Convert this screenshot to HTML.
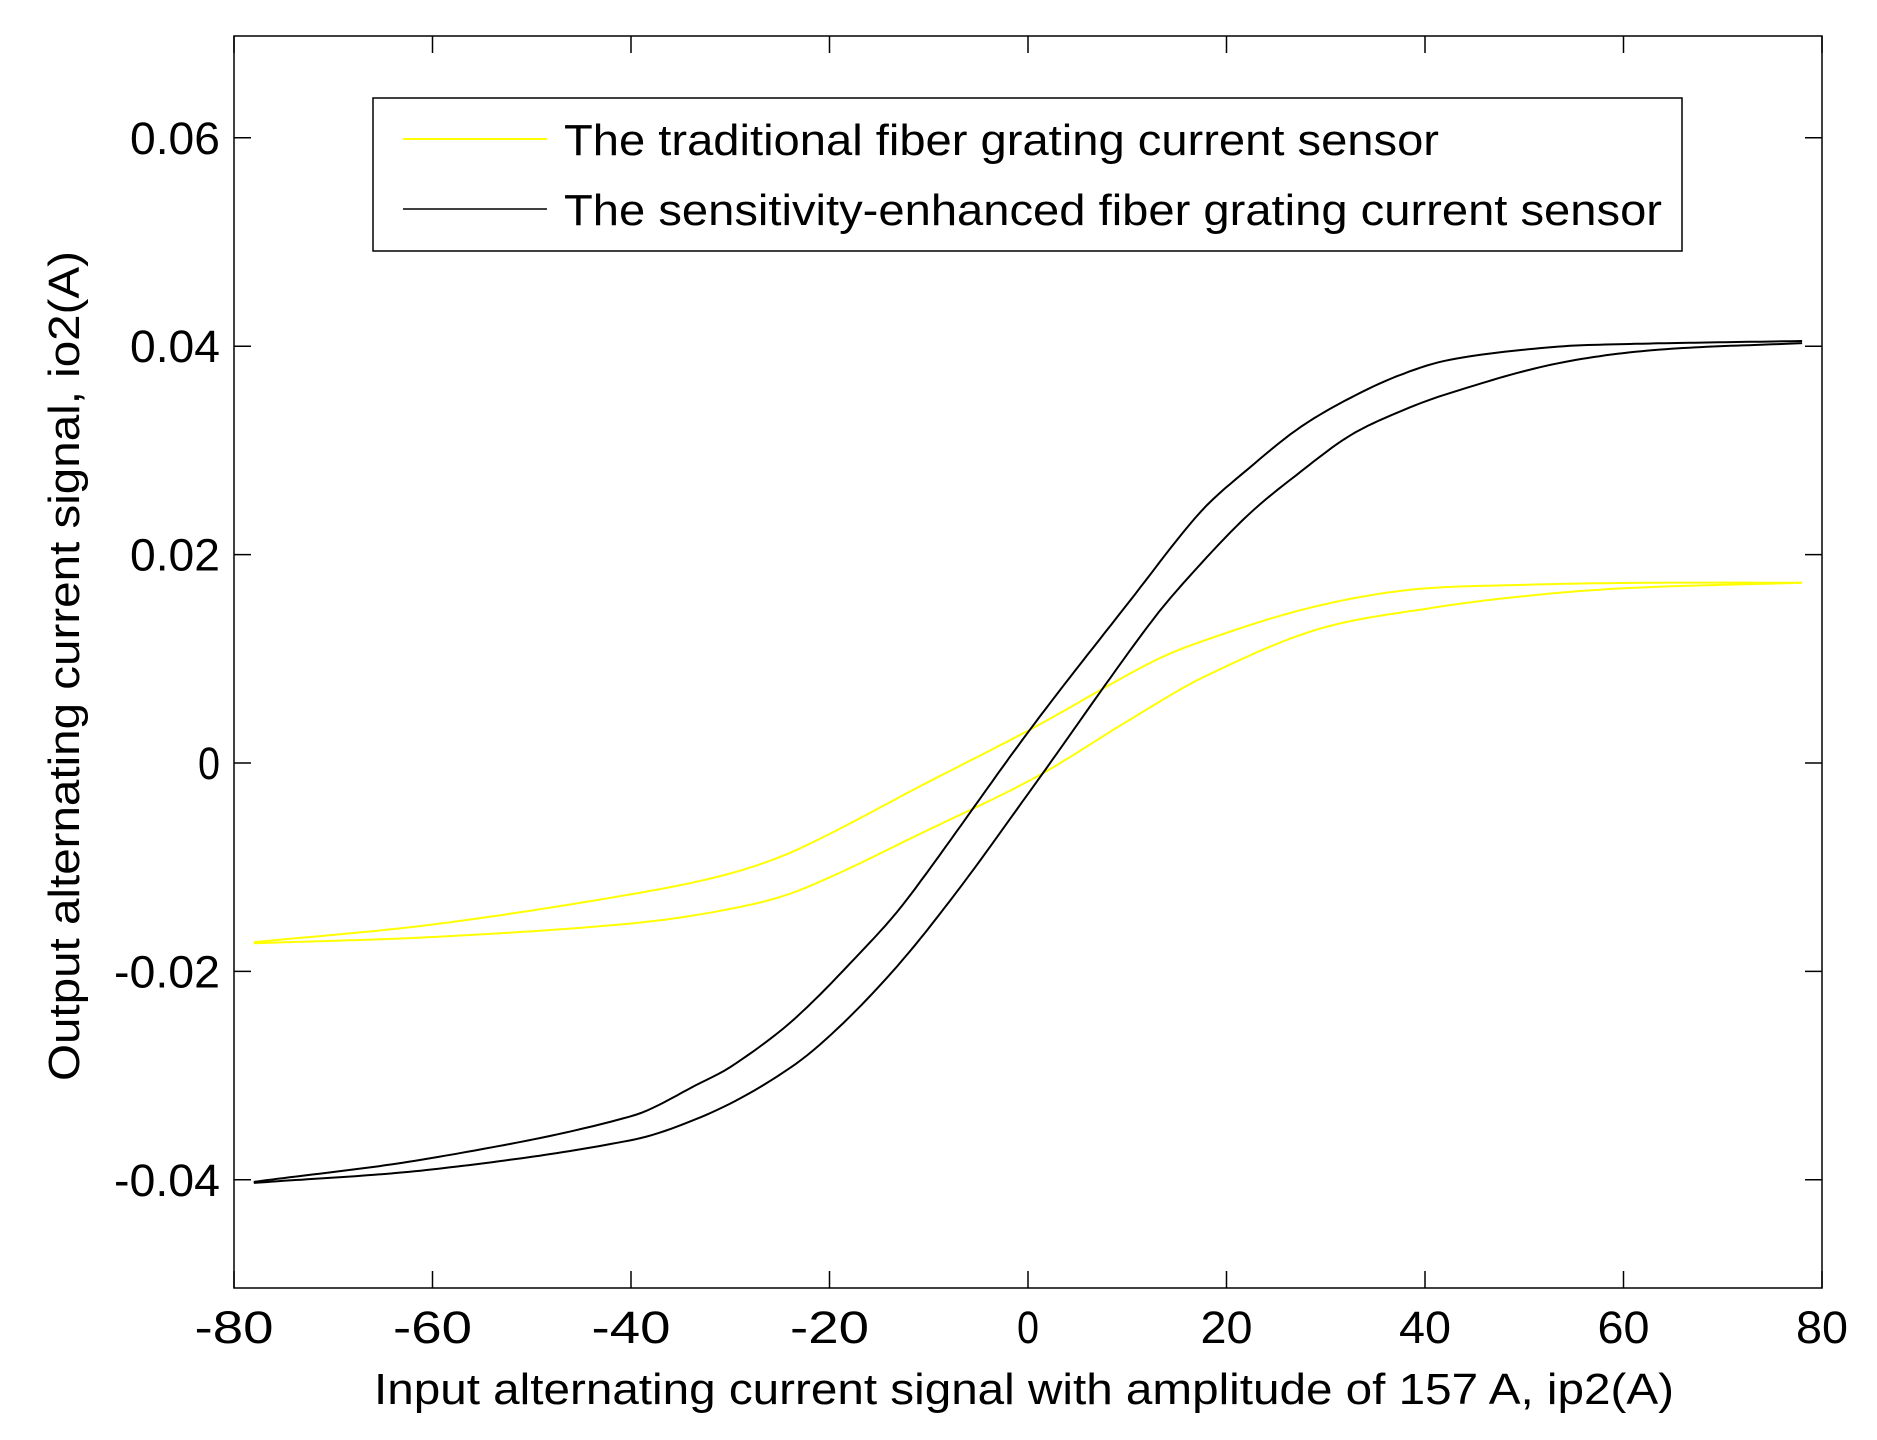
<!DOCTYPE html>
<html><head><meta charset="utf-8"><style>
html,body{margin:0;padding:0;background:#fff;}
svg{display:block;}
text{font-family:"Liberation Sans",Arial,sans-serif;fill:#000;}
</style></head><body>
<svg id="s" width="1877" height="1440" viewBox="0 0 1877 1440" xmlns="http://www.w3.org/2000/svg">
<rect x="0" y="0" width="1877" height="1440" fill="#fff"/>
<g id="curves" fill="none" stroke-width="2"></g>
<rect x="234" y="36" width="1588" height="1252" fill="none" stroke="#000" stroke-width="1.5"/>
<g id="ticks" stroke="#000" stroke-width="1.5"></g>
<g id="labels" font-size="45"></g>
<text x="1024" y="1404" font-size="44" text-anchor="middle" textLength="1300" lengthAdjust="spacingAndGlyphs">Input alternating current signal with amplitude of 157 A, ip2(A)</text>
<text transform="translate(79,666) rotate(-90)" font-size="44" text-anchor="middle" textLength="830" lengthAdjust="spacingAndGlyphs">Output alternating current signal, io2(A)</text>
<rect x="373" y="98" width="1309" height="153" fill="#fff" stroke="#000" stroke-width="1.5"/>
<line x1="403" y1="139" x2="547" y2="139" stroke="#ffff00" stroke-width="2"/>
<line x1="403" y1="209" x2="547" y2="209" stroke="#000" stroke-width="1.5"/>
<text x="564" y="155" font-size="44" textLength="875" lengthAdjust="spacingAndGlyphs">The traditional fiber grating current sensor</text>
<text x="564" y="225" font-size="44" textLength="1098" lengthAdjust="spacingAndGlyphs">The sensitivity-enhanced fiber grating current sensor</text>
</svg>
<script>
var NS="http://www.w3.org/2000/svg";
function X(x){return 234+(x+80)*9.925;}
function Y(y){return 763-y*10420;}
function el(p,t,a){var e=document.createElementNS(NS,t);for(var k in a)e.setAttribute(k,a[k]);p.appendChild(e);return e;}
var tk=document.getElementById('ticks'),lb=document.getElementById('labels');
for(var x=-80;x<=80;x+=20){var px=X(x);
 el(tk,'line',{x1:px,y1:1288,x2:px,y2:1271});el(tk,'line',{x1:px,y1:36,x2:px,y2:53});
 var s=String(x);var w=x===0?22:(x<0?79:52);
 var t=el(lb,'text',{x:px,y:1343,'text-anchor':'middle',textLength:w,lengthAdjust:'spacingAndGlyphs'});t.textContent=s;}
[-0.04,-0.02,0,0.02,0.04,0.06].forEach(function(v){var py=Y(v);
 el(tk,'line',{x1:234,y1:py,x2:251,y2:py});el(tk,'line',{x1:1822,y1:py,x2:1805,y2:py});
 var s=v===0?'0':v.toFixed(2);var w=v===0?22:(v<0?106:90);
 var t=el(lb,'text',{x:220,y:py+16,'text-anchor':'end',textLength:w,lengthAdjust:'spacingAndGlyphs'});t.textContent=s;});
function interp(pts,x){for(var i=0;i<pts.length-1;i++){var a=pts[i],b=pts[i+1];if(x>=a[0]&&x<=b[0]){
 var p0=pts[Math.max(0,i-1)],p3=pts[Math.min(pts.length-1,i+2)];var t=(x-a[0])/(b[0]-a[0]);
 var m1=(b[1]-p0[1])/(b[0]-p0[0])*(b[0]-a[0]),m2=(p3[1]-a[1])/(p3[0]-a[0])*(b[0]-a[0]);
 var t2=t*t,t3=t2*t;return (2*t3-3*t2+1)*a[1]+(t3-2*t2+t)*m1+(-2*t3+3*t2)*b[1]+(t3-t2)*m2;}}return pts[pts.length-1][1];}
var yu=[[-78,-0.0172],[-60,-0.0155],[-40,-0.0126],[-30,-0.0106],[-23,-0.0082],[-10,-0.0018],[0.2,0.0032],[12.3,0.0096],[17.3,0.0116],[28,0.0148],[38.3,0.0166],[50,0.0171],[62.7,0.0173],[78,0.0173]];
var yl=[[-78,-0.0173],[-60,-0.0167],[-40,-0.0154],[-30,-0.0140],[-23,-0.0122],[-10,-0.0064],[0.9,-0.0013],[10,0.0040],[17.6,0.0082],[29.1,0.0128],[40.8,0.0149],[50.9,0.0161],[60.7,0.0168],[78,0.0173]];
var bu=[[-78,-0.0402],[-60,-0.0379],[-40,-0.0339],[-33,-0.0307],[-29.7,-0.0290],[-23.7,-0.0247],[-16.6,-0.0179],[-12.2,-0.0131],[0.2,0.0032],[10.3,0.0156],[17.3,0.0240],[22.4,0.0284],[27.4,0.0322],[32.4,0.0350],[37.4,0.0372],[42.5,0.0387],[52.6,0.0399],[60,0.0402],[78,0.0405]];
var bl=[[-78,-0.0403],[-60,-0.0390],[-40,-0.0362],[-33,-0.0340],[-27,-0.0311],[-21.3,-0.0273],[-14.2,-0.0206],[-7.6,-0.0129],[0.5,-0.0023],[12.3,0.0134],[17.3,0.0190],[22.4,0.0240],[27.4,0.0279],[32.4,0.0314],[37.4,0.0337],[42.5,0.0355],[52.6,0.0382],[62.7,0.0396],[78,0.0403]];
var g=document.getElementById('curves');
function draw(pts,col){var d='';
 for(var x=-78;x<=78.001;x+=0.6){var y=interp(pts,x);
  d+=(d?'L':'M')+X(x).toFixed(1)+' '+Y(y).toFixed(1);}
 el(g,'path',{d:d,stroke:col});}
draw(yu,'#ffff00');draw(yl,'#ffff00');draw(bu,'#000');draw(bl,'#000');
</script>
</body></html>
